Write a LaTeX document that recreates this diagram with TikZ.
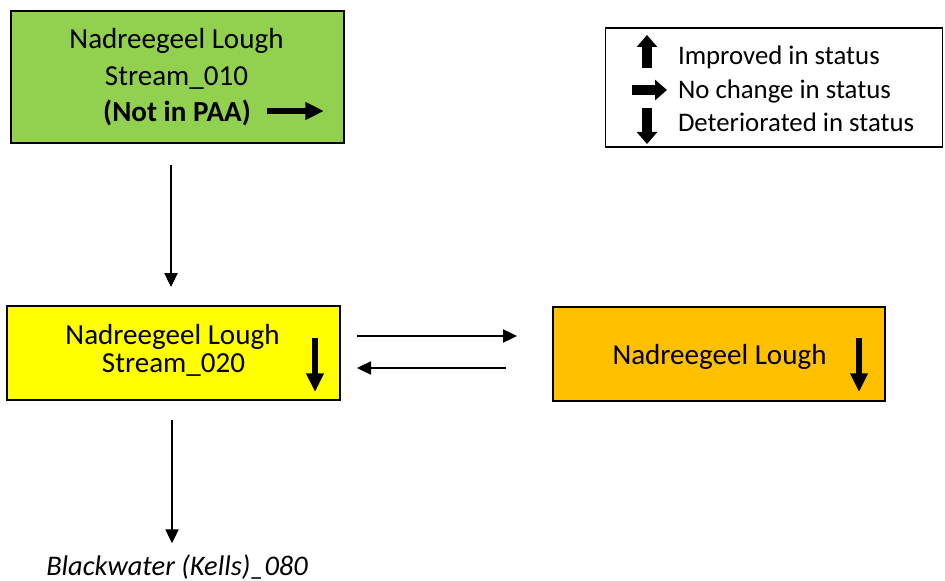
\documentclass[tikz,border=0pt]{standalone}
\usepackage{fontspec}
\setmainfont{Carlito}
\usetikzlibrary{arrows.meta,calc}
\definecolor{boxgreen}{HTML}{92D050}
\definecolor{boxyellow}{HTML}{FFFF00}
\definecolor{boxorange}{HTML}{FFC000}
\begin{document}
\begin{tikzpicture}[x=0.75pt,y=-0.75pt,
  box/.style={draw=black,line width=1.1pt,inner sep=0pt,outer sep=0pt,rectangle},
  legendbox/.style={draw=black,line width=0.8pt,fill=white,inner sep=0pt,outer sep=0pt,rectangle},
  txt/.style={inner sep=0pt,outer sep=0pt,anchor=base,font=\fontsize{21.8}{26}\selectfont},
  ltxt/.style={inner sep=0pt,outer sep=0pt,anchor=base west,font=\fontsize{20.1}{24}\selectfont},
  conn/.style={line width=0.8pt,-{Triangle[length=10.5pt,width=10pt]}},
  fatarrow/.style={line width=7.5pt,-{Triangle[length=9pt,width=15pt]}},
  thinfat/.style={line width=4.5pt,-{Triangle[length=14pt,width=12.5pt]}},
  font=\fontsize{20}{24}\selectfont]
\useasboundingbox (0,0) rectangle (945,581);

% boxes
\node[box,fill=boxgreen,minimum width=249.75pt,minimum height=99pt] (green) at (177.5,77) {};
\node[box,fill=boxyellow,minimum width=249.75pt,minimum height=70.5pt] (yellow) at (173.5,353) {};
\node[box,fill=boxorange,minimum width=249pt,minimum height=70.5pt] (orange) at (719,354) {};
\node[legendbox,minimum width=252.75pt,minimum height=89.25pt] (legend) at (774,87.5) {};

% green texts
\node[txt] (g1) at (176.5,49) {Nadreegeel Lough};
\node[txt] (g2) at (176.5,86) {Stream\_010};
\node[txt] (g3) at (177,122) {\textbf{(Not in PAA)}};
\coordinate (ga1) at (267,111);
\coordinate (ga2) at (324,111);
\draw[thinfat] (ga1) -- (ga2);

% yellow texts
\node[txt] (y1) at (172.5,344) {Nadreegeel Lough};
\node[txt] (y2) at (173.5,372) {Stream\_020};
\coordinate (ya1) at (315,338);
\coordinate (ya2) at (315,392);
\draw[thinfat] (ya1) -- (ya2);

% orange texts
\node[txt] (o1) at (719.5,364) {Nadreegeel Lough};
\coordinate (oa1) at (859,338);
\coordinate (oa2) at (859,392);
\draw[thinfat] (oa1) -- (oa2);

% legend
\coordinate (lu1) at (647,68);
\coordinate (lu2) at (647,35);
\draw[fatarrow] (lu1) -- (lu2);
\node[ltxt] (l1) at (678,65) {Improved in status};
\coordinate (lr1) at (632,90);
\coordinate (lr2) at (667,90);
\draw[fatarrow] (lr1) -- (lr2);
\node[ltxt] (l2) at (678,99) {No change in status};
\coordinate (ld1) at (647,108);
\coordinate (ld2) at (647,144);
\draw[fatarrow] (ld1) -- (ld2);
\node[ltxt] (l3) at (678,132) {Deteriorated in status};

% bottom label
\node[txt,font=\fontsize{21.3}{25}\selectfont\itshape] (bw) at (177,575) {Blackwater (Kells)\_080};

% connectors
\draw[conn] ($(green.south)+(-6.5,22)$) -- ($(yellow.north)+(-2.5,-19)$);
\draw[conn] ($(yellow.east)+(17,-17)$) -- ($(orange.west)+(-36,-18)$);
\draw[conn] ($(orange.west)+(-47,14)$) -- ($(yellow.east)+(17,15)$);
\draw[conn] ($(yellow.south)+(-1.5,20)$) -- ($(bw.north)+(-5,-11)$);
\end{tikzpicture}
\end{document}
